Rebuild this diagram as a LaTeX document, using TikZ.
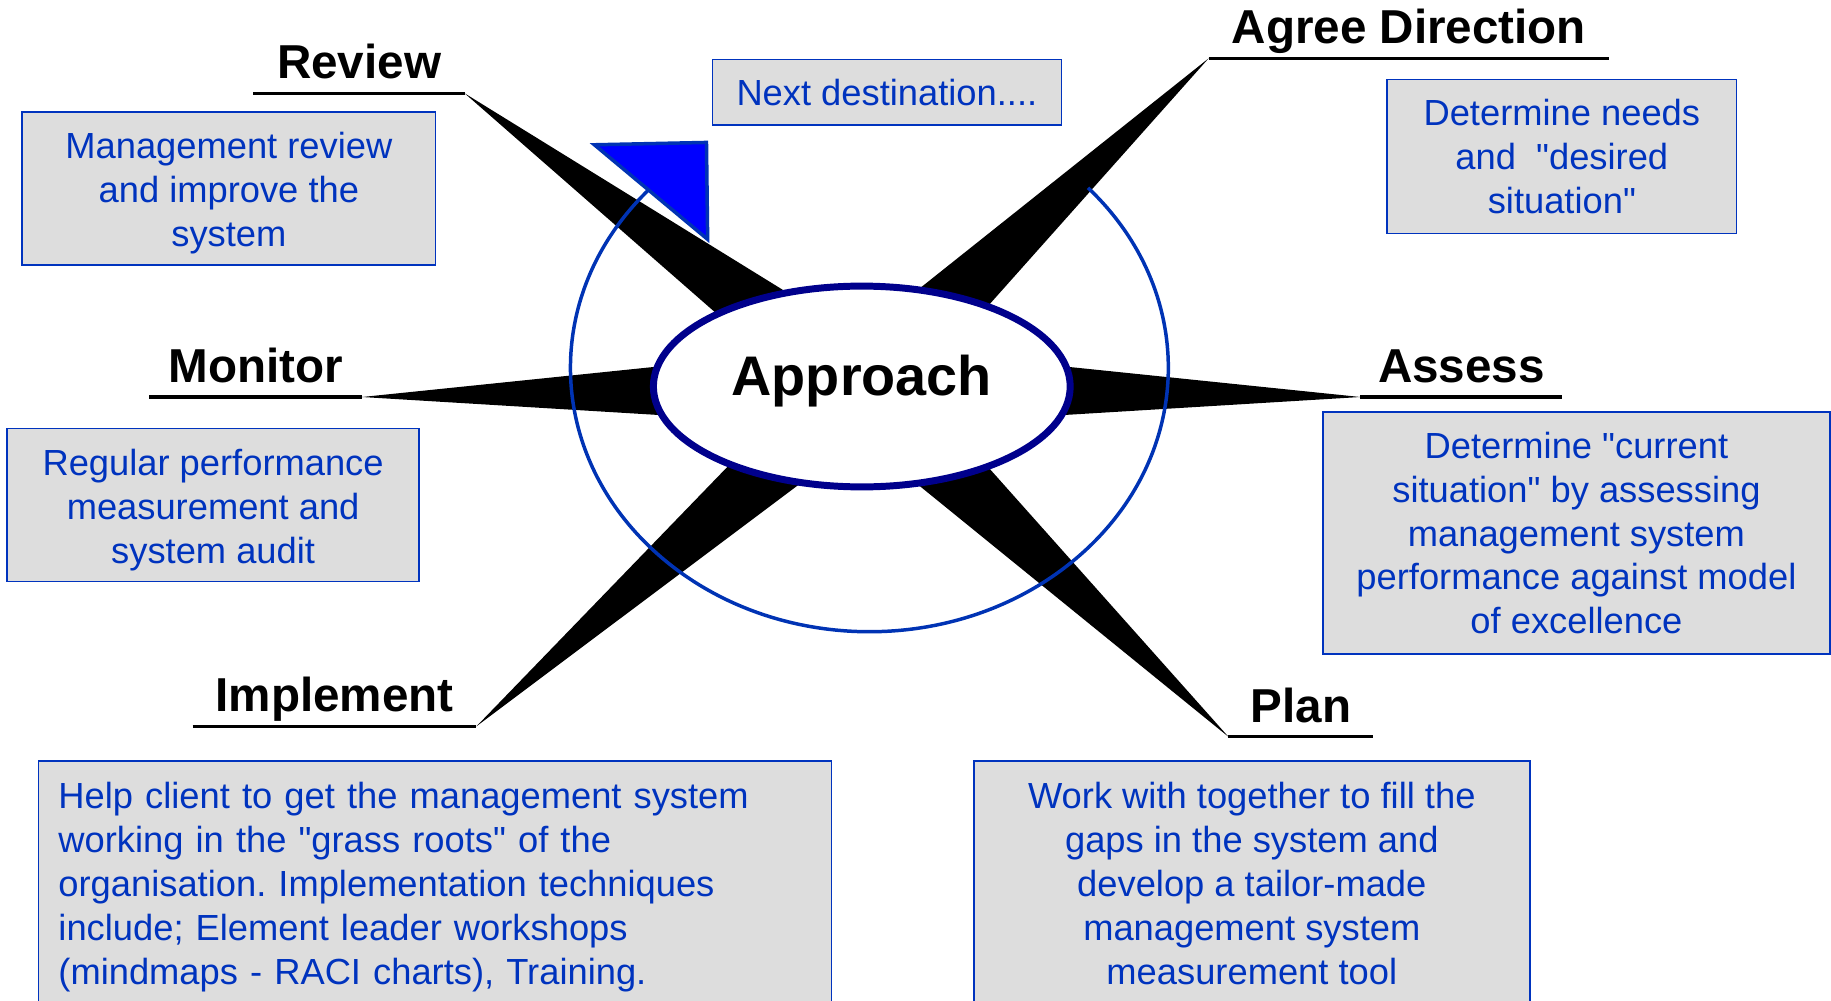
\documentclass[tikz,border=0pt]{standalone}
\usepackage{fontspec}
\setmainfont{Liberation Sans}[Ligatures=TeXOff]
\usetikzlibrary{shapes.geometric,calc}
\definecolor{txtBlue}{RGB}{0,51,190}
\definecolor{boxGray}{RGB}{221,221,221}
\definecolor{ringBlue}{RGB}{0,51,180}
\definecolor{hubNavy}{RGB}{0,0,140}
\frenchspacing

\begin{document}
\begin{tikzpicture}[x=0.02cm,y=0.02cm,
    stBox/.style={draw=txtBlue,line width=0.8pt,fill=boxGray,text=txtBlue,
      font=\fontsize{17.7}{21.4}\selectfont,align=center,inner sep=0pt},
    stHead/.style={font=\fontsize{23.2}{28}\selectfont\bfseries,anchor=base,yshift=0.25cm},
    stRule/.style={line width=1.5pt},
]
\useasboundingbox (0,0) rectangle (1568,857);
\clip (0,0) rectangle (1568,857);
% Text boxes
\node[stBox,minimum width=7.08cm,minimum height=2.62cm] (mgmt) at (196,695.5) {\rule{0pt}{17pt}Management review\\and improve the\\system};
\node[stBox,minimum width=5.98cm,minimum height=1.12cm] (next) at (759.5,778) {Next destination....};
\node[stBox,minimum width=5.98cm,minimum height=2.64cm] (needs) at (1337.5,723) {Determine needs\\and\ \ "desired\\situation"};
\node[stBox,minimum width=7.06cm,minimum height=2.62cm] (perf) at (182.5,424.5) {\rule{0pt}{17.5pt}Regular performance\\measurement and\\system audit};
\node[stBox,minimum width=8.68cm,minimum height=4.14cm] (curr) at (1350,400.5) {Determine "current\\situation" by assessing\\management system\\performance against model\\of excellence};
\node[stBox,align=left,text width=12.9cm,inner xsep=0.34cm,minimum height=4.2cm,
  execute at begin node={\rule{0pt}{16.4pt}}] (help) at (372.5,100.5) {Help client to get the management system\\working in the "grass roots" of the\\organisation. Implementation techniques\\include; Element leader workshops\\(mindmaps - RACI charts), Training.};
\node[stBox,minimum width=9.52cm,minimum height=4.2cm] (work) at (1072,100.5) {Work with together to fill the\\gaps in the system and\\develop a tailor-made\\management system\\measurement tool};
% Centre, rule ends and spike tips
\coordinate (C) at (738,526);
\coordinate (revA) at (217,777);   \coordinate (revT) at (398,777);
\coordinate (agrT) at (1035,807);  \coordinate (agrB) at (1378,807);
\coordinate (monA) at (128,517);   \coordinate (monT) at (310,517);
\coordinate (assT) at (1165,517);  \coordinate (assB) at (1338,517);
\coordinate (impA) at (165,235);   \coordinate (impT) at (408,235);
\coordinate (plnT) at (1052,226);  \coordinate (plnB) at (1176,226);
% Compass spikes
\foreach \tip in {revT,agrT,monT,assT,impT,plnT}
  \fill ($(C)!0.7cm!90:(\tip)$) -- (\tip) -- ($(C)!0.7cm!-90:(\tip)$) -- cycle;
% Rules under the stage names
\draw[stRule] (revA) -- (revT);
\draw[stRule] (agrT) -- (agrB);
\draw[stRule] (monA) -- (monT);
\draw[stRule] (assT) -- (assB);
\draw[stRule] (impA) -- (impT);
\draw[stRule] (plnT) -- (plnB);
% Stage names
\node[stHead] (review) at ($(revA)!0.5!(revT)$) {Review};
\node[stHead] (agree) at ($(agrT)!0.5!(agrB)$) {Agree Direction};
\node[stHead] (monitor) at ($(monA)!0.5!(monT)$) {Monitor};
\node[stHead] (assess) at ($(assT)!0.5!(assB)$) {Assess};
\node[stHead] (implement) at ($(impA)!0.5!(impT)$) {Implement};
\node[stHead] (plan) at ($(plnT)!0.5!(plnB)$) {Plan};
% Cycle ring and its arrowhead
\coordinate (ring) at (744.5,542);
\draw[ringBlue,line width=1.7pt] (ring) ++(43:256 and 226)
  arc[start angle=43,end angle=-222.5,x radius=256,y radius=226];
\filldraw[fill=blue,draw=ringBlue,line width=1.7pt] (509,733) -- (605,735) -- (606,652) -- cycle;
% Hub
\node[ellipse,draw=hubNavy,line width=3.4pt,fill=white,minimum width=7.14cm,minimum height=3.44cm,
  text depth=10.9pt,font=\fontsize{27.2}{32}\selectfont\bfseries] (hub) at (C) {Approach};
\end{tikzpicture}
\end{document}
